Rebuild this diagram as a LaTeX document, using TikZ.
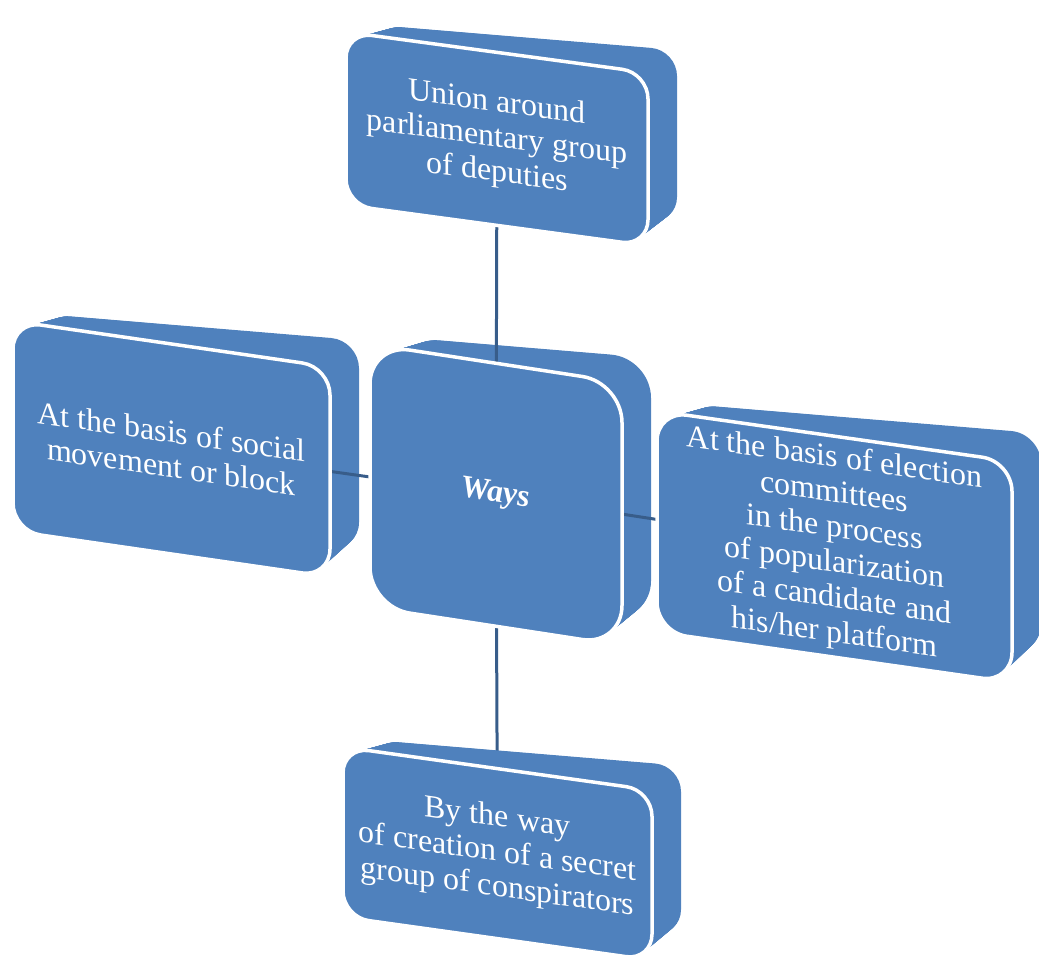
\documentclass[tikz,border=0pt]{standalone}
\usepackage{fontspec}
\setmainfont{Liberation Serif}
\pgfdeclarelayer{extr}
\pgfdeclarelayer{lines}
\pgfdeclarelayer{extrtop}
\pgfdeclarelayer{fronts}
\pgfsetlayers{extr,lines,extrtop,fronts,main}
\definecolor{boxblue}{HTML}{4F81BD}
\definecolor{connblue}{HTML}{385D8A}
\tikzset{
  frontface/.style={fill=boxblue, draw=white, line width=3.5pt},
  boxtext/.style={text=white, align=center, font=\fontsize{32}{35}\selectfont, inner sep=0pt},
  conn/.style={draw=connblue, line width=3pt}
}
\def\depthx{29}
\def\depthy{-7}
\def\backslant{0.083}
\def\extrlayer{extr}
% #1 name, #2 x0, #3 y0, #4 w, #5 h, #6 slant, #7 radius, #8 text
\newcommand\ExtrudedBox[8]{%
  \begin{pgfonlayer}{\extrlayer}
    \foreach \kk in {0,...,40} {
      \pgfmathsetmacro\myslant{-(#6+(\kk/40)*(\backslant-#6))}
      \pgfmathsetmacro\myx{#2+\depthx*\kk/40}
      \pgfmathsetmacro\myy{#3+\depthy*\kk/40}
      \fill[boxblue, shift={(\myx,\myy)}, yslant=\myslant, rounded corners=#7pt]
        (0,0) -- (#4,0) -- (#4,#5) -- (0,#5) -- cycle;
    }
  \end{pgfonlayer}
  \begin{scope}[shift={(#2,#3)}, yslant=-#6]
    \begin{pgfonlayer}{fronts}
      \filldraw[frontface, rounded corners=#7pt] (0,0) -- (#4,0) -- (#4,#5) -- (0,#5) -- cycle;
    \end{pgfonlayer}
    \node[boxtext, transform shape] (#1) at (#4/2,#5/2) {#8};
  \end{scope}
}
\begin{document}
\begin{tikzpicture}[x=1pt,y=-1pt]
\useasboundingbox (0,0) rectangle (1039,956);
\ExtrudedBox{T}{346}{32}{302}{173}{0.135}{26}{Union around\\parliamentary group\\of deputies}
\ExtrudedBox{L}{13}{321}{317}{210}{0.145}{28}{At the basis of social\\movement or block}
\ExtrudedBox{C}{370}{344}{252}{263}{0.153}{40}{\textbf{\textit{Ways}}}
\ExtrudedBox{R}{657}{411}{355}{221}{0.142}{30}{At the basis of election\\committees\\in the process\\of popularization\\of a candidate and\\his/her platform}
\def\extrlayer{extrtop}
\ExtrudedBox{B}{343}{747}{309}{170}{0.14}{26}{By the way\\of creation of a secret\\group of conspirators}
\begin{pgfonlayer}{lines}
  \draw[conn] (T.center) -- (C.center);
  \draw[conn] (L.center) -- (C.center);
  \draw[conn] (C.center) -- (R.center);
  \draw[conn] (C.center) -- (B.center);
\end{pgfonlayer}
\end{tikzpicture}
\end{document}
